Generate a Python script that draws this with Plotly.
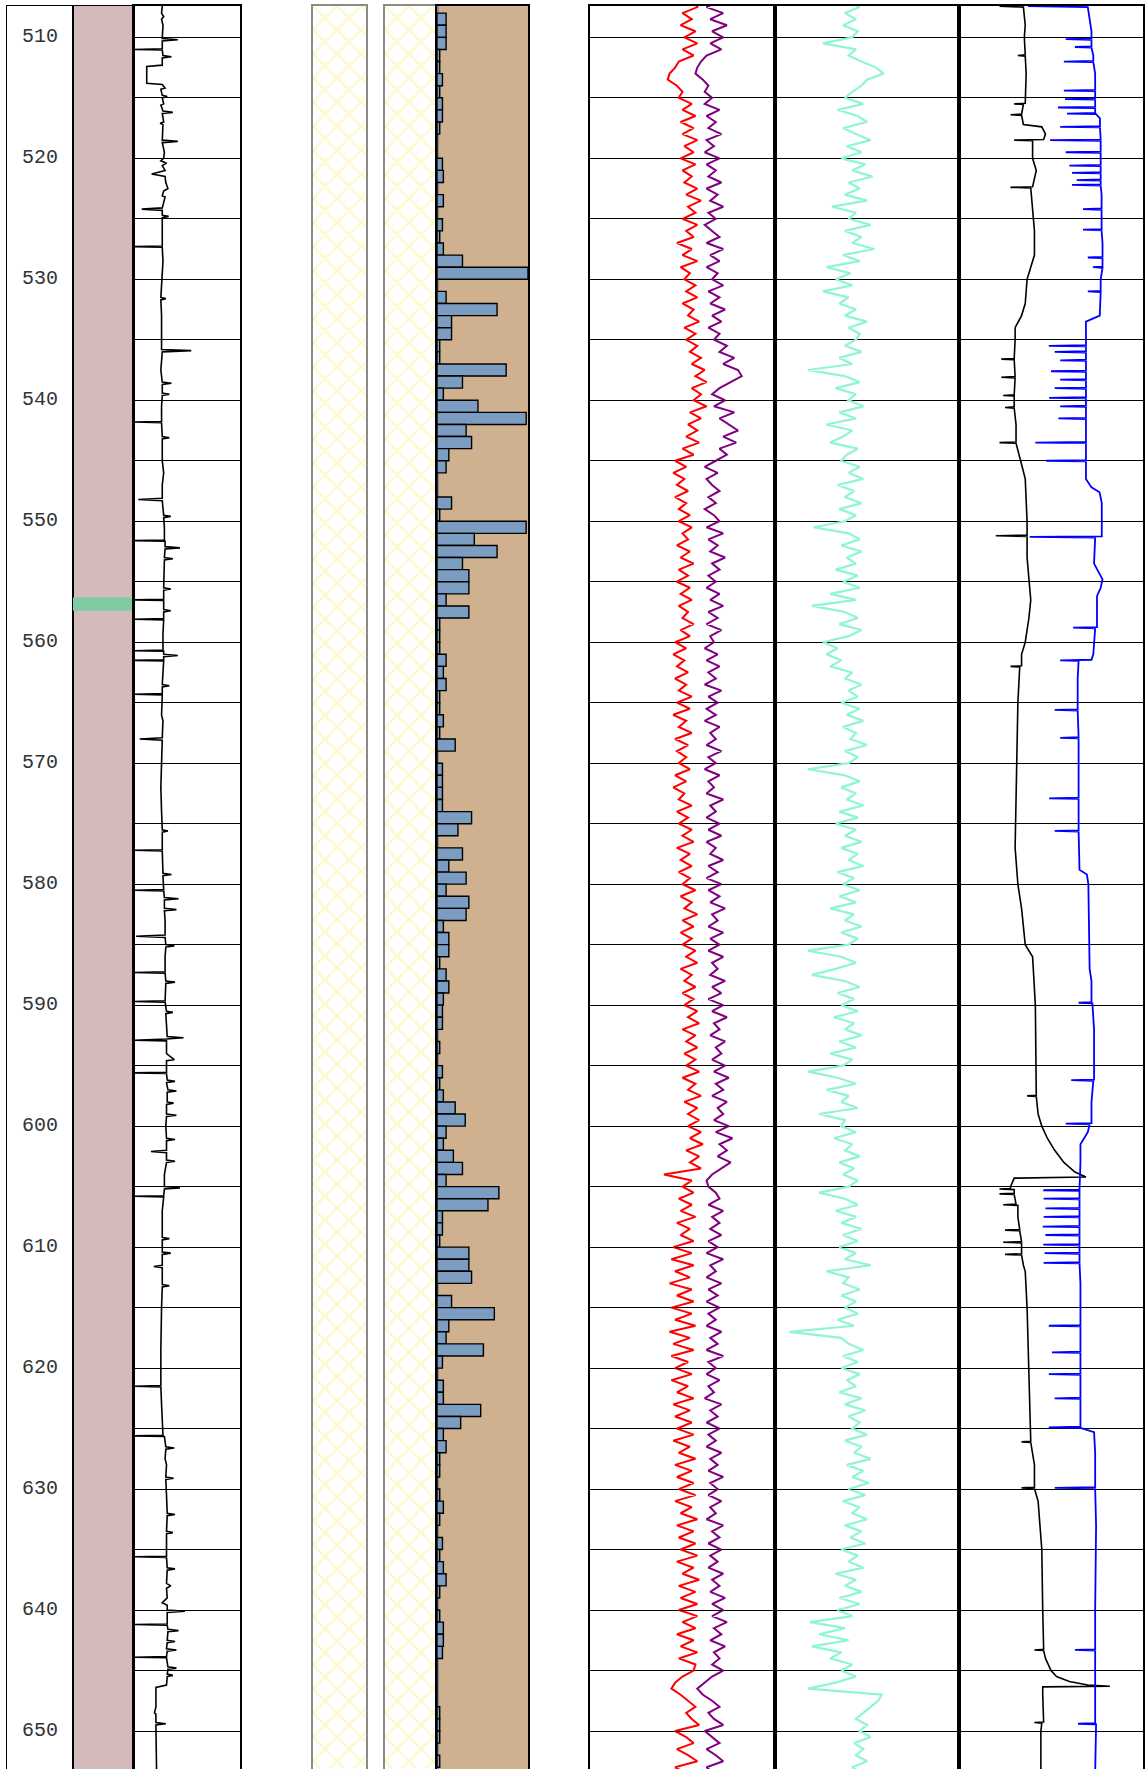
import numpy as np
import plotly.graph_objects as go

# ---------------- data ----------------
DEPTH_TOP = 507.41
DEPTH_BOTTOM = 653.14
DEPTH_LABELS = [510, 520, 530, 540, 550, 560, 570, 580, 590, 600, 610, 620, 630, 640, 650]

# marker bed in the lithology column
MARKER_TOP = [556.3]
MARKER_BOTTOM = [557.4]

# hatched (sand) interval in the two lithology tracks
HATCH_TOP = [507.0]
HATCH_BOTTOM = [654.0]

# 1 m bins (top depth) and their values (%)
BAR_TOP_DEPTH = list(range(508, 653))
BAR_VALUE = [
    10, 10, 10, 3, 3, 6, 3, 6, 6, 3,
    0, 0, 6, 7, 0, 7, 0, 6, 3, 7,
    28, 100, 0, 10, 66, 16, 16, 3, 3, 76,
    28, 7, 45, 98, 32, 38, 13, 10, 0, 0,
    16, 3, 98, 41, 66, 28, 35, 35, 10, 35,
    3, 3, 3, 10, 7, 10, 3, 3, 7, 3,
    20, 0, 6, 6, 6, 6, 38, 23, 0, 28,
    13, 32, 10, 35, 32, 7, 13, 13, 3, 10,
    13, 7, 6, 6, 0, 3, 0, 6, 3, 7,
    20, 31, 10, 7, 18, 28, 10, 68, 56, 6,
    6, 3, 35, 35, 38, 0, 16, 63, 13, 10,
    51, 6, 0, 7, 7, 48, 26, 7, 10, 3,
    3, 0, 3, 7, 3, 0, 6, 3, 7, 10,
    3, 0, 3, 7, 7, 6, 0, 0, 0, 0,
    3, 3, 3, 0, 3,
]

# gamma-ray style curve (depth, value 0-150)
GR_LOG = [
    (507.4, 40), (508.0, 39), (508.3, 42), (508.5, 39), (509.0, 41),
    (510.1, 40), (510.2, 62), (510.3, 40),
    (510.95, 40), (511.0, 0), (511.05, 40),
    (511.5, 41), (511.6, 53), (511.7, 40),
    (512.3, 40), (512.4, 18), (513.8, 18), (513.9, 40),
    (514.2, 44), (514.3, 38),
    (514.8, 40), (514.9, 47), (515.0, 40),
    (515.5, 42), (515.6, 38),
    (516.1, 41), (516.2, 55), (516.3, 40),
    (517.0, 42), (517.1, 37), (517.2, 41),
    (518.5, 40), (518.6, 62), (518.7, 40),
    (519.5, 43), (520.0, 42), (520.2, 38), (520.4, 46), (520.6, 40),
    (521.0, 44), (521.3, 25), (521.5, 44),
    (522.0, 45), (522.5, 48), (522.7, 42),
    (523.1, 40), (523.2, 44),
    (524.1, 40), (524.2, 11), (524.3, 40),
    (524.7, 40), (524.8, 49), (524.9, 40),
    (526.0, 40),
    (527.25, 40), (527.3, 0), (527.35, 40),
    (528.5, 41), (530.0, 40),
    (531.5, 38), (531.6, 45), (531.7, 38),
    (533.0, 39),
    (535.8, 39), (535.9, 81), (536.0, 40),
    (537.5, 38),
    (538.5, 40), (538.6, 53), (538.7, 40),
    (539.4, 40), (539.5, 50), (539.6, 40),
    (540.5, 39),
    (541.75, 39), (541.8, 0), (541.85, 39),
    (543.0, 40), (543.1, 50), (543.2, 40),
    (545.0, 40), (546.0, 42), (547.0, 40),
    (548.1, 40), (548.2, 6), (548.3, 40),
    (549.5, 42), (549.6, 52), (549.7, 42),
    (550.5, 43),
    (551.55, 43), (551.6, 0), (551.65, 44),
    (552.1, 44), (552.2, 65), (552.3, 44),
    (553.0, 43), (553.1, 55), (553.2, 43),
    (554.5, 42),
    (555.5, 42), (555.6, 52), (555.7, 42),
    (556.45, 42), (556.5, 0), (556.55, 42),
    (557.3, 42), (557.4, 52), (557.5, 42),
    (558.05, 42), (558.1, 0), (558.15, 42),
    (559.3, 41),
    (560.65, 41), (560.7, 0), (560.75, 42),
    (561.0, 42), (561.1, 62), (561.2, 42),
    (561.45, 42), (561.5, 0), (561.55, 42),
    (562.5, 41),
    (563.5, 40), (563.6, 50), (563.7, 40),
    (564.25, 40), (564.3, 0), (564.35, 40),
    (566.0, 39), (566.5, 41),
    (567.9, 40), (568.0, 8), (568.1, 40),
    (570.0, 39), (572.0, 38), (574.0, 39),
    (575.5, 40), (575.6, 48), (575.7, 40),
    (577.15, 40), (577.2, 0), (577.25, 40),
    (578.5, 41),
    (579.1, 41), (579.2, 53), (579.3, 41),
    (580.45, 42), (580.5, 0), (580.55, 42),
    (581.1, 43), (581.2, 63), (581.3, 43),
    (582.0, 43), (582.1, 60), (582.2, 43),
    (583.0, 44),
    (584.2, 44), (584.3, 3), (584.4, 44),
    (585.0, 45), (585.1, 57), (585.2, 45),
    (586.0, 44),
    (587.25, 44), (587.3, 0), (587.35, 44),
    (588.0, 45), (588.1, 58), (588.2, 45),
    (589.65, 44), (589.7, 0), (589.75, 44),
    (590.5, 46), (590.6, 55), (590.7, 45),
    (592.1, 46), (592.6, 47), (592.7, 70), (592.8, 46), (592.9, 0), (592.95, 46),
    (594.0, 46), (594.5, 57), (594.6, 46),
    (595.55, 46), (595.6, 0), (595.65, 46),
    (596.2, 47), (596.3, 58), (596.4, 46),
    (597.0, 48), (597.1, 60), (597.2, 47),
    (598.0, 47), (598.1, 56), (598.2, 46),
    (599.0, 46), (599.1, 60), (599.2, 46),
    (600.0, 45),
    (601.0, 46), (601.1, 58), (601.2, 46),
    (602.0, 46), (602.1, 24), (602.2, 46),
    (602.8, 46), (602.9, 58), (603.0, 46),
    (604.0, 43),
    (605.0, 43), (605.1, 65), (605.2, 43),
    (605.75, 42), (605.8, 0), (605.85, 42),
    (607.0, 40),
    (609.2, 40), (609.3, 50), (609.4, 40),
    (610.4, 40), (610.5, 52), (610.6, 40),
    (611.5, 40), (611.6, 28), (611.7, 40),
    (613.1, 40), (613.2, 50), (613.3, 40),
    (615.0, 39), (617.0, 38), (618.5, 38), (620.0, 38),
    (621.45, 38), (621.5, 0), (621.55, 38),
    (623.0, 39),
    (625.55, 41), (625.6, 0), (625.65, 43),
    (626.5, 45), (626.6, 57), (626.7, 45),
    (627.5, 44), (628.0, 46),
    (629.0, 45), (629.1, 56), (629.2, 45),
    (630.5, 46),
    (632.0, 47), (632.1, 58), (632.2, 47),
    (633.5, 46), (633.6, 55), (633.7, 46),
    (635.55, 46), (635.6, 0), (635.65, 46),
    (636.5, 47), (636.6, 58), (636.7, 47),
    (637.8, 46), (638.0, 52), (638.2, 46),
    (639.0, 47), (639.4, 40), (639.6, 47),
    (640.0, 47), (640.1, 72), (640.2, 47),
    (641.15, 47), (641.2, 0), (641.25, 47),
    (641.6, 48), (641.7, 63), (641.8, 48),
    (642.5, 47), (642.6, 58), (642.7, 47),
    (643.2, 46), (643.3, 60), (643.4, 47),
    (643.85, 46), (643.9, 0), (643.95, 46),
    (644.7, 48), (644.8, 60), (644.9, 48),
    (645.3, 47), (645.4, 55), (645.5, 47),
    (646.2, 46), (646.4, 31),
    (648.0, 31), (648.5, 29), (648.6, 31),
    (649.3, 31), (649.4, 45), (649.5, 31),
    (653.5, 32),
]

# regularly sampled curves: first sample at 507.0, every 0.5
CURVE_START = 507.0
CURVE_STEP = 0.5

RED_VALUE = [
    56, 58, 50, 55, 49, 57,
    51, 58, 50, 56, 48, 46, 43, 42, 47, 50,
    48, 55, 50, 57, 49, 56, 50, 58, 51, 56,
    49, 57, 50, 55, 51, 58, 52, 60, 53, 57,
    50, 58, 52, 56, 47, 55, 50, 58, 49, 54,
    51, 57, 52, 58, 50, 56, 53, 59, 51, 57,
    52, 58, 54, 60, 55, 62, 57, 63, 55, 60,
    56, 63, 54, 60, 53, 58, 52, 59, 50, 56,
    46, 52, 45, 51, 47, 53, 46, 52, 48, 54,
    48, 55, 50, 53, 47, 54, 49, 56, 48, 53,
    47, 54, 49, 55, 48, 53, 50, 56, 49, 54,
    46, 52, 45, 51, 47, 53, 46, 52, 48, 55,
    47, 54, 45, 52, 48, 55, 46, 53, 47, 52,
    48, 54, 46, 52, 45, 51, 48, 55, 47, 53,
    48, 55, 50, 56, 47, 54, 49, 55, 48, 54,
    50, 57, 49, 55, 51, 58, 50, 56, 49, 55,
    50, 57, 52, 58, 49, 55, 51, 57, 50, 56,
    51, 58, 53, 59, 50, 57, 52, 58, 51, 57,
    52, 59, 50, 57, 53, 60, 51, 58, 53, 59,
    53, 60, 54, 61, 52, 59, 54, 60, 40, 55,
    50, 56, 48, 55, 49, 57, 47, 54, 49, 56,
    45, 55, 44, 56, 46, 54, 43, 55, 47, 56,
    44, 55, 46, 57, 43, 54, 45, 56, 44, 53,
    46, 55, 44, 53, 47, 56, 45, 54, 46, 55,
    47, 56, 45, 54, 48, 57, 46, 55, 47, 56,
    48, 57, 46, 55, 49, 58, 47, 56, 48, 57,
    49, 58, 47, 56, 50, 59, 48, 57, 49, 58,
    48, 58, 50, 57, 47, 56, 49, 58, 48, 57,
    56, 50, 46, 44, 49, 53, 57, 52, 55, 59,
    46, 52, 56, 47, 53, 58, 46, 52,
]

PURPLE_VALUE = [
    70, 63, 72, 65, 74, 66,
    72, 65, 71, 63, 60, 58, 57, 61, 64, 62,
    66, 62, 70, 63, 68, 64, 71, 63, 67, 62,
    70, 63, 68, 64, 71, 63, 69, 65, 72, 64,
    68, 62, 66, 70, 63, 72, 65, 70, 63, 69,
    66, 72, 64, 70, 65, 73, 66, 71, 64, 70,
    67, 74, 70, 78, 72, 80, 82, 76, 70, 66,
    73, 67, 78, 70, 75, 80, 72, 79, 70, 74,
    68, 62, 69, 63, 66, 70, 64, 68, 62, 67,
    70, 63, 72, 64, 69, 65, 73, 66, 70, 64,
    68, 63, 70, 65, 72, 64, 69, 63, 71, 65,
    67, 62, 69, 63, 70, 64, 68, 62, 71, 64,
    69, 63, 68, 62, 70, 65, 68, 63, 71, 64,
    68, 62, 70, 64, 67, 63, 72, 65, 68, 63,
    70, 64, 71, 63, 68, 65, 72, 64, 69, 63,
    71, 64, 70, 65, 73, 66, 69, 64, 72, 65,
    70, 64, 72, 66, 69, 65, 73, 66, 71, 64,
    72, 66, 74, 67, 70, 65, 73, 68, 71, 66,
    73, 67, 75, 68, 72, 66, 74, 69, 72, 67,
    75, 68, 77, 70, 74, 69, 76, 71, 66, 63,
    64, 68, 70, 64, 72, 66, 70, 65, 71, 64,
    69, 63, 72, 65, 68, 63, 71, 64, 69, 63,
    70, 64, 68, 63, 71, 65, 69, 63, 72, 64,
    68, 63, 70, 64, 67, 62, 71, 65, 69, 63,
    70, 64, 68, 63, 71, 65, 69, 64, 72, 65,
    69, 64, 71, 65, 68, 63, 72, 66, 70, 64,
    71, 65, 69, 64, 72, 66, 70, 65, 73, 66,
    72, 66, 74, 67, 71, 65, 73, 67, 70, 66,
    72, 66, 62, 58, 61, 66, 70, 64, 67, 72,
    62, 66, 70, 63, 68, 72, 63, 67,
]

AQUA_VALUE = [
    40, 46, 38, 44, 37, 45,
    42, 26, 44, 40, 47, 55, 59, 50, 47, 42,
    38, 48, 34, 45, 50, 37, 44, 52, 39, 47,
    36, 49, 42, 53, 40, 46, 38, 50, 31, 44,
    40, 52, 38, 47, 42, 54, 37, 46, 28, 41,
    33, 42, 26, 40, 35, 44, 38, 50, 40, 46,
    44, 38, 47, 35, 42, 18, 38, 46, 33, 44,
    40, 48, 35, 44, 28, 42, 37, 30, 45, 39,
    36, 46, 40, 48, 34, 43, 38, 47, 35, 44,
    38, 21, 40, 46, 36, 47, 39, 44, 33, 45,
    37, 46, 30, 44, 20, 38, 45, 35, 47, 40,
    26, 34, 28, 36, 30, 42, 38, 47, 40, 45,
    36, 46, 39, 48, 37, 44, 41, 50, 38, 45,
    40, 18, 38, 46, 36, 44, 39, 48, 35, 45,
    33, 44, 38, 47, 36, 45, 40, 48, 34, 43,
    37, 46, 35, 44, 30, 43, 38, 47, 36, 45,
    40, 18, 36, 44, 33, 20, 38, 46, 34, 43,
    36, 45, 32, 43, 38, 47, 35, 44, 30, 42,
    37, 18, 34, 44, 28, 40, 36, 45, 24, 38,
    36, 44, 32, 42, 38, 46, 35, 43, 37, 45,
    40, 24, 38, 45, 33, 44, 36, 47, 37, 45,
    35, 44, 38, 52, 28, 40, 37, 46, 36, 44,
    38, 45, 34, 43, 8, 36, 40, 48, 37, 45,
    36, 46, 39, 44, 35, 47, 38, 49, 40, 46,
    42, 50, 38, 47, 43, 52, 39, 48, 42, 51,
    40, 49, 37, 46, 42, 50, 38, 47, 41, 49,
    36, 45, 40, 48, 33, 44, 38, 47, 35, 46,
    34, 42, 19, 38, 24, 40, 20, 36, 30, 42,
    36, 44, 33, 18, 58, 56, 52, 48, 44, 50,
    46, 52, 43, 48, 44, 50, 42, 47,
]

# resistivity-style curves in the last track (depth, value 0-100)
DEEP_LOG = [
    (507.42, 22), (507.5, 35), (509.0, 36), (510.0, 35.5),
    (511.45, 36), (511.5, 32), (511.55, 36),
    (513.0, 36.5),
    (515.45, 36), (515.5, 30), (515.55, 35),
    (516.35, 34), (516.4, 28), (516.45, 34),
    (517.2, 35), (517.4, 45), (518.0, 47), (518.4, 46),
    (518.45, 46), (518.5, 30), (518.55, 40),
    (520.0, 40), (521.0, 42),
    (522.35, 40), (522.4, 28), (522.45, 39),
    (524.0, 40), (526.0, 41), (528.0, 41), (530.0, 37), (532.0, 36), (533.0, 34),
    (534.0, 30.5), (535.0, 30.5),
    (536.55, 30), (536.6, 23), (536.65, 30),
    (538.05, 30.5), (538.1, 23), (538.15, 30.5),
    (539.55, 30), (539.6, 24), (539.65, 30),
    (540.55, 30), (540.6, 25), (540.65, 30),
    (542.0, 31),
    (543.45, 31), (543.5, 22), (543.55, 31),
    (545.0, 33.5), (546.5, 36), (550.0, 37),
    (551.15, 37), (551.2, 20), (551.25, 37),
    (553.0, 37), (555.0, 38), (556.5, 39), (558.0, 38), (560.0, 36), (561.0, 34),
    (561.95, 34), (562.0, 28), (562.05, 33),
    (565.0, 32), (570.0, 31.5), (575.0, 31), (577.0, 30.5), (580.0, 32), (582.0, 34),
    (585.0, 36), (586.0, 40), (590.0, 41.5), (595.0, 42),
    (597.45, 42), (597.5, 37), (597.55, 42),
    (599.0, 43), (600.0, 45), (601.0, 48), (602.0, 52), (603.0, 57), (603.8, 63),
    (604.2, 69), (604.3, 30),
    (605.0, 28),
    (605.15, 28), (605.2, 22), (605.25, 30),
    (605.55, 30), (605.6, 22), (605.65, 30),
    (606.45, 31), (606.5, 24), (606.55, 32),
    (607.5, 32),
    (608.55, 33), (608.6, 25), (608.65, 33),
    (609.55, 34), (609.6, 24), (609.65, 34),
    (610.55, 34), (610.6, 25), (610.65, 34),
    (611.5, 35), (612.0, 36), (615.0, 37), (620.0, 38), (624.0, 38.5),
    (626.05, 39), (626.1, 34), (626.15, 39),
    (628.0, 41),
    (629.85, 41), (629.9, 34), (629.95, 41),
    (631.0, 43), (635.0, 45), (640.0, 45.5),
    (643.25, 46), (643.3, 41), (643.35, 46),
    (644.0, 47), (645.0, 50), (645.5, 53), (645.9, 60), (646.2, 70), (646.3, 82),
    (646.35, 45.5), (647.0, 45.5),
    (649.25, 46), (649.3, 41), (649.35, 45),
    (650.0, 44.5), (653.5, 44.5),
]

SHALLOW_LOG = [
    (507.42, 37.5), (507.5, 70), (508.5, 71), (509.5, 72),
    (510.1, 72), (510.15, 58), (510.2, 72),
    (510.75, 72), (510.8, 63), (510.85, 72),
    (511.5, 73),
    (511.95, 73), (512.0, 57), (512.05, 73),
    (513.0, 74),
    (514.35, 74), (514.4, 57), (514.45, 74),
    (515.05, 74), (515.1, 57.6), (515.15, 74),
    (515.75, 74), (515.8, 53.8), (515.85, 74),
    (516.25, 74), (516.3, 58.7), (516.35, 74.5),
    (516.7, 76.6),
    (517.35, 76.6), (517.4, 55), (517.45, 76.6),
    (518.45, 77), (518.5, 49.5), (518.55, 77),
    (519.45, 77), (519.5, 58), (519.55, 77),
    (520.55, 77), (520.6, 60), (520.65, 77),
    (521.15, 77), (521.2, 61.4), (521.25, 77),
    (521.75, 77), (521.8, 64), (521.85, 77),
    (522.15, 77), (522.2, 61.4), (522.25, 77),
    (523.0, 77.5),
    (524.15, 77.5), (524.2, 67.4), (524.25, 77.5),
    (525.85, 77.5), (525.9, 67.4), (525.95, 77.5),
    (527.0, 78),
    (528.15, 78), (528.2, 70), (528.25, 78),
    (528.95, 78), (529.0, 72.8), (529.05, 78),
    (530.0, 77),
    (530.95, 77), (531.0, 70), (531.05, 77),
    (533.0, 76.5), (533.5, 69),
    (535.45, 69), (535.5, 48.8), (535.55, 69),
    (535.95, 69), (536.0, 52), (536.05, 69),
    (536.65, 69), (536.7, 55), (536.75, 69),
    (537.55, 69), (537.6, 50), (537.65, 69),
    (538.25, 69), (538.3, 55), (538.35, 69),
    (538.95, 69), (539.0, 52), (539.05, 69),
    (539.75, 69), (539.8, 49), (539.85, 69),
    (540.45, 69), (540.5, 55), (540.55, 69),
    (541.45, 69), (541.5, 54), (541.55, 69),
    (543.45, 69), (543.5, 41.5), (543.55, 69),
    (544.95, 69), (545.0, 47.5), (545.05, 69),
    (546.5, 69), (547.2, 72), (547.6, 76.4), (548.5, 77.6),
    (551.25, 77.6), (551.3, 38.4), (551.35, 74),
    (553.5, 73.4), (554.8, 78), (555.5, 77), (556.2, 75),
    (558.75, 75), (558.8, 62), (558.85, 74),
    (561.0, 73), (561.45, 72), (561.5, 55), (561.55, 65),
    (563.0, 64.5),
    (565.55, 64.5), (565.6, 52), (565.65, 64.5),
    (567.85, 65), (567.9, 55), (567.95, 65),
    (570.0, 65),
    (572.85, 65), (572.9, 49), (572.95, 65),
    (575.55, 65), (575.6, 52), (575.65, 65),
    (578.8, 65.5), (579.2, 69.5), (580.0, 70.3),
    (587.0, 71), (588.0, 72),
    (589.75, 72), (589.8, 65), (589.85, 72.5),
    (592.0, 73.4),
    (596.15, 73.4), (596.2, 61), (596.25, 73),
    (598.0, 72),
    (599.75, 72), (599.8, 58), (599.85, 71),
    (600.5, 70), (601.5, 66), (603.0, 66),
    (605.25, 65.5), (605.3, 45.8), (605.35, 65.5),
    (605.95, 65.5), (606.0, 46), (606.05, 65.5),
    (606.75, 65.5), (606.8, 47), (606.85, 65.5),
    (607.45, 65.5), (607.5, 46), (607.55, 65.5),
    (608.25, 65.5), (608.3, 45.5), (608.35, 65.5),
    (608.95, 65.5), (609.0, 47), (609.05, 65.5),
    (609.75, 65.5), (609.8, 45.8), (609.85, 65.5),
    (610.45, 65.5), (610.5, 46.5), (610.55, 65.5),
    (611.25, 65.5), (611.3, 46), (611.35, 65.5),
    (613.0, 66),
    (616.45, 66), (616.5, 48.8), (616.55, 66),
    (618.65, 66), (618.7, 50.5), (618.75, 66),
    (620.45, 66), (620.5, 48.8), (620.55, 66),
    (622.45, 66), (622.5, 52), (622.55, 66),
    (624.85, 66), (624.9, 48.8), (624.95, 66),
    (625.3, 73.4), (627.0, 74),
    (629.85, 74), (629.9, 52), (629.95, 74),
    (633.0, 74.5), (637.0, 74), (640.0, 74),
    (643.25, 74), (643.3, 63), (643.35, 74),
    (646.0, 74),
    (649.35, 74), (649.4, 64.7), (649.45, 74.5),
    (653.5, 74),
]

# ---------------- layout constants ----------------
W, H = 1147, 1769
EDGES = [7, 73, 134, 240, 313, 366, 385, 437, 528, 590, 775, 959, 1143]
XRANGES = {1: [0, 1], 2: [0, 1], 3: [0, 150], 4: [0, 1], 5: [0, 1], 6: [0, 1],
           7: [0, 1], 8: [0, 100], 9: [0, 1], 10: [0, 100], 11: [0, 100], 12: [0, 100]}
GRID_TRACKS = {3, 10, 11, 12}
GREY_TRACKS = {5, 6, 7}


def ax(k, kind):
    return kind if k == 1 else f"{kind}{k}"


fig = go.Figure()

# depth labels
fig.add_trace(go.Scatter(
    x=[0.5] * len(DEPTH_LABELS), y=DEPTH_LABELS, mode="text",
    text=[str(d) for d in DEPTH_LABELS],
    textfont=dict(family="Liberation Mono, Courier New, monospace", size=20, color="#333333"),
    xaxis="x", yaxis="y", hoverinfo="skip", cliponaxis=False))

# marker bed (green) in track 2
fig.add_trace(go.Bar(
    x=[0.5], base=MARKER_TOP,
    y=[b - t for t, b in zip(MARKER_TOP, MARKER_BOTTOM)], width=[1],
    marker=dict(color="#7fcba0", line=dict(width=0)),
    xaxis="x2", yaxis="y2", hoverinfo="skip"))

# GR curve
gr_d = [p[0] for p in GR_LOG]
gr_v = [p[1] for p in GR_LOG]
fig.add_trace(go.Scatter(x=gr_v, y=gr_d, mode="lines",
                         line=dict(color="black", width=1.6),
                         xaxis="x3", yaxis="y3", hoverinfo="skip"))

# hatched tracks
for k in (5, 7):
    fig.add_trace(go.Bar(
        x=[0.5], base=HATCH_TOP,
        y=[b - t for t, b in zip(HATCH_TOP, HATCH_BOTTOM)], width=[1],
        marker=dict(color="white", line=dict(width=0),
                    pattern=dict(shape="x", fgcolor="#fbf3a6", bgcolor="white",
                                 size=17, solidity=0.3)),
        xaxis=ax(k, "x"), yaxis=ax(k, "y"), hoverinfo="skip"))

# horizontal bars
fig.add_trace(go.Bar(
    orientation="h", y=[t + 0.5 for t in BAR_TOP_DEPTH], x=BAR_VALUE, width=1,
    marker=dict(color="#7b9dc2", line=dict(color="black", width=1.4)),
    xaxis="x8", yaxis="y8", hoverinfo="skip"))

# regular curves
reg_d = CURVE_START + CURVE_STEP * np.arange(len(RED_VALUE))
fig.add_trace(go.Scatter(x=RED_VALUE, y=reg_d, mode="lines",
                         line=dict(color="#ff0000", width=2),
                         xaxis="x10", yaxis="y10", hoverinfo="skip"))
reg_p = CURVE_START + CURVE_STEP * np.arange(len(PURPLE_VALUE))
fig.add_trace(go.Scatter(x=PURPLE_VALUE, y=reg_p, mode="lines",
                         line=dict(color="#800080", width=2),
                         xaxis="x10", yaxis="y10", hoverinfo="skip"))
reg_a = CURVE_START + CURVE_STEP * np.arange(len(AQUA_VALUE))
fig.add_trace(go.Scatter(x=AQUA_VALUE, y=reg_a, mode="lines",
                         line=dict(color="#8ff5d2", width=2.2),
                         xaxis="x11", yaxis="y11", hoverinfo="skip"))

# resistivity curves
fig.add_trace(go.Scatter(x=[p[1] for p in DEEP_LOG], y=[p[0] for p in DEEP_LOG], mode="lines",
                         line=dict(color="black", width=1.6),
                         xaxis="x12", yaxis="y12", hoverinfo="skip"))
fig.add_trace(go.Scatter(x=[p[1] for p in SHALLOW_LOG], y=[p[0] for p in SHALLOW_LOG], mode="lines",
                         line=dict(color="#0000ff", width=1.8),
                         xaxis="x12", yaxis="y12", hoverinfo="skip"))

layout = dict(
    width=W, height=H,
    margin=dict(l=0, r=0, t=6, b=0, pad=0),
    paper_bgcolor="white", plot_bgcolor="white",
    showlegend=False, barmode="overlay",
)
for k in range(1, 13):
    lc = "#8a8a8a" if k in GREY_TRACKS else "black"
    lw = 1.2 if k in (1, 2, 9) else 1.5
    layout[ax(k, "xaxis")] = dict(
        domain=[EDGES[k - 1] / W, EDGES[k] / W], range=XRANGES[k], anchor=ax(k, "y"),
        showticklabels=False, ticks="", showgrid=False, zeroline=False,
        showline=True, mirror=True, linecolor=lc, linewidth=lw, fixedrange=True)
    ya = dict(
        domain=[0, 1], range=[DEPTH_BOTTOM, DEPTH_TOP], anchor=ax(k, "x"),
        showticklabels=False, ticks="", showgrid=(k in GRID_TRACKS),
        gridcolor="black", gridwidth=1, tick0=0, dtick=5, zeroline=False,
        showline=True, mirror=True, linecolor=lc, linewidth=lw)
    if k > 1:
        ya["matches"] = "y"
    layout[ax(k, "yaxis")] = ya

BG = {2: "#d4baba", 8: "#cfb08f", 9: "#fffde0"}
layout["shapes"] = [
    dict(type="rect", xref=f"x{k} domain", yref=f"y{k} domain", x0=0, x1=1, y0=0, y1=1,
         fillcolor=c, line=dict(width=0), layer="below")
    for k, c in BG.items()
]
fig.update_layout(**layout)

fig.write_html("out.html",
               config={"displayModeBar": False},
               post_script="document.body.style.margin='0';document.body.style.overflow='hidden';")
